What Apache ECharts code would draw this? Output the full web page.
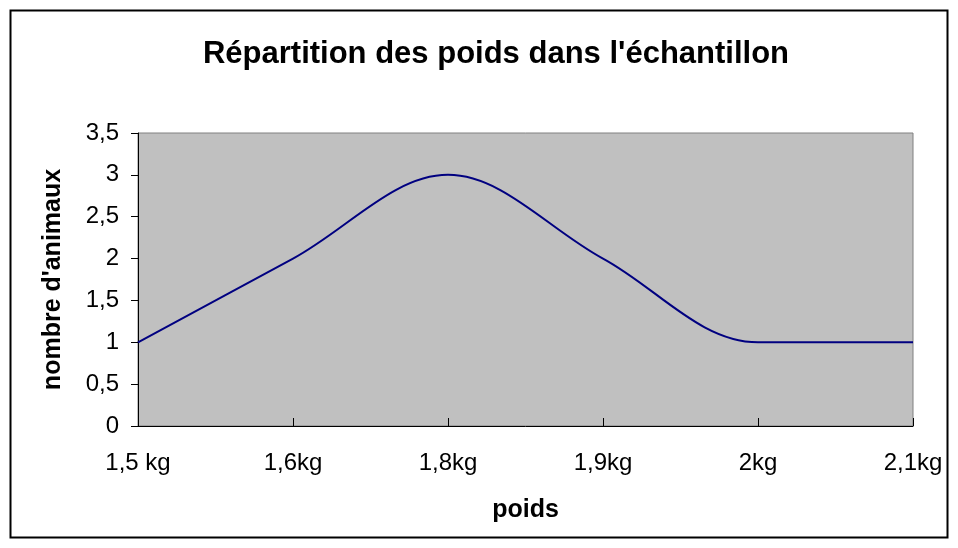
<!DOCTYPE html>
<html><head><meta charset="utf-8">
<script src="https://cdn.jsdelivr.net/npm/echarts@6/dist/echarts.min.js"></script>
<style>html,body{margin:0;padding:0;background:#fff}#c{width:958px;height:548px}</style>
</head><body><div id="c"></div>
<script>
const categories = ["1,5 kg", "1,6kg", "1,8kg", "1,9kg", "2kg", "2,1kg"];
const values = [1, 2, 3, 2, 1, 1];
const yTicks = ["0", "0,5", "1", "1,5", "2", "2,5", "3", "3,5"];

const chart = echarts.init(document.getElementById('c'), null, {renderer: 'canvas'});
const F = 'Liberation Sans, Arial, sans-serif';
chart.setOption({
  animation: false,
  backgroundColor: '#fff',
  title: {
    text: "Répartition des poids dans l'échantillon",
    left: 491, top: 34, textAlign: 'center',
    textStyle: {fontFamily: F, fontSize: 31, fontWeight: 'bold', color: '#000'}
  },
  graphic: [{
    type: 'rect', shape: {x: 10.5, y: 10.5, width: 937, height: 527},
    style: {fill: null, stroke: '#000', lineWidth: 2}, silent: true, z: 100
  }],
  grid: {left: 138, right: 45, top: 133, bottom: 122, show: true,
    backgroundColor: '#C0C0C0', borderColor: '#808080', borderWidth: 1},
  xAxis: {
    type: 'category', data: categories, boundaryGap: false,
    name: 'poids', nameLocation: 'middle', nameGap: 72,
    nameTextStyle: {fontFamily: F, fontSize: 25, fontWeight: 'bold', color: '#000'},
    axisLine: {lineStyle: {color: '#000', width: 1}},
    axisTick: {inside: true, length: 8, lineStyle: {color: '#000'}},
    axisLabel: {fontFamily: F, fontSize: 24, color: '#000', margin: 25},
    splitLine: {show: false}
  },
  yAxis: {
    type: 'value', min: 0, max: 3.5, interval: 0.5,
    name: "nombre d'animaux", nameLocation: 'middle', nameGap: 72, nameRotate: 90,
    nameTextStyle: {fontFamily: F, fontSize: 25, fontWeight: 'bold', color: '#000'},
    axisLine: {show: true, lineStyle: {color: '#000', width: 1}},
    axisTick: {show: true, length: 7, lineStyle: {color: '#000'}},
    axisLabel: {fontFamily: F, fontSize: 24, color: '#000', margin: 19,
      formatter: function(v){ return yTicks[Math.round(v*2)]; }},
    splitLine: {show: false}
  },
  series: [{
    type: 'line', data: values, smooth: 0.35, symbol: 'none',
    lineStyle: {color: '#000080', width: 2}
  }]
});
</script></body></html>
